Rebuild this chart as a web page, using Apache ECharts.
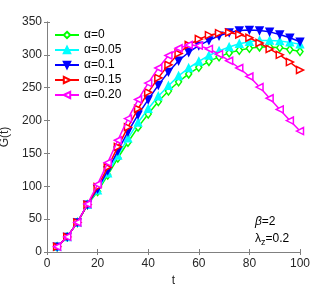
<!DOCTYPE html>
<html><head><meta charset="utf-8">
<script src="https://cdn.jsdelivr.net/npm/echarts@6/dist/echarts.min.js"></script>
<style>html,body{margin:0;padding:0;background:#fff}#c{width:332px;height:290px}</style>
</head><body><div id="c"></div>
<script>
const tValues = [4,8,12,16,20,24,28,32,36,40,44,48,52,56,60,64,68,72,76,80,84,88,92,96,100];
const seriesNames = ['\u03b1=0','\u03b1=0.05','\u03b1=0.1','\u03b1=0.15','\u03b1=0.20'];
const alpha0   = [8,23,45,72,92,117,143,167,190,210,229,245,259,271,281,290,297,303,307,310,312,312,311,308,305];
const alpha005 = [8,23,45,72,94,120,147,173,197,218,237,253,268,280,290,299,306,312,317,320,322,322,321,319,316];
const alpha01  = [8,23,45,72,96,124,154,183,209,232,254,274,291,304,314,322,329,334,337,338,337,335,331,326,320];
const alpha015 = [8,23,45,72,99,129,160,190,218,243,265,285,302,315,324,330,333,334,331,326,318,309,300,289,277];
const alpha020 = [8,23,45,73,103,136,170,203,232,257,280,299,310,315,314,309,301,291,280,267,251,234,217,200,184];
const xTicks = [0,20,40,60,80,100];
const yTicks = [0,50,100,150,200,250,300,350];

const colors = ['#00ff00','#00ffff','#0000ff','#ff0000','#ff00ff'];
const symbols = ['diamond','triangle','triangle','triangle','triangle'];
const rotates = [0,0,180,-90,90];
const fills = ['#ffffff','#00ffff','#0000ff','#ffffff','#ffffff'];
const allData = [alpha0,alpha005,alpha01,alpha015,alpha020];

const font = 'Liberation Sans, Arial, sans-serif';
const chart = echarts.init(document.getElementById('c'), null, {renderer:'canvas'});
const axisCommon = {
  axisLine:{show:true,lineStyle:{color:'#808080',width:1}},
  axisTick:{show:true,inside:true,length:3,lineStyle:{color:'#808080'}},
  splitLine:{show:false}
};
chart.setOption({
  animation:false,
  grid:{left:47,right:32,top:22,bottom:38,containLabel:false,outerBoundsMode:'none'},
  xAxis:[
    Object.assign({type:'value',min:0,max:100,interval:20,
      axisLabel:{color:'#262626',fontSize:12,fontFamily:font,margin:6},
      name:'t',nameLocation:'middle',nameGap:19,nameTextStyle:{color:'#262626',fontSize:12,fontFamily:font}},axisCommon),
    Object.assign({type:'value',min:0,max:100,interval:20,position:'top',axisLabel:{show:false}},axisCommon)
  ],
  yAxis:[
    Object.assign({type:'value',min:0,max:350,interval:50,
      axisLabel:{color:'#262626',fontSize:12,fontFamily:font,margin:5},
      name:'G(t)',nameLocation:'middle',nameGap:30,nameTextStyle:{color:'#262626',fontSize:12,fontFamily:font}},axisCommon),
    Object.assign({type:'value',min:0,max:350,interval:50,position:'right',axisLabel:{show:false}},axisCommon)
  ],
  legend:{
    orient:'vertical',left:49,top:24,itemWidth:24,itemHeight:8,itemGap:3,
    textStyle:{color:'#000',fontSize:12,fontFamily:font},
    data:seriesNames
  },
  series: allData.map((d,i)=>({
    name:seriesNames[i],type:'line',
    data:tValues.map((t,j)=>[t,d[j]]),
    symbol:symbols[i],symbolRotate:rotates[i],symbolSize:i===0?[6,8]:7,
    showAllSymbol:true,
    lineStyle:{color:colors[i],width:1.5},
    itemStyle:{color:fills[i],borderColor:colors[i],borderWidth:1.5},
    z:2+i
  })),
  graphic:[
    {type:'text',left:255,top:216,style:{text:'{b|\u03b2}=2',fill:'#000',font:'12px '+font,
      rich:{b:{fontStyle:'italic',fontSize:12,fontFamily:font}}}},
    {type:'text',left:255,top:233,style:{text:'\u03bb{s|z}=0.2',fill:'#000',font:'12px '+font,
      rich:{s:{fontSize:9,fontFamily:font,padding:[8,0,0,0]}}}}
  ]
});
</script></body></html>
